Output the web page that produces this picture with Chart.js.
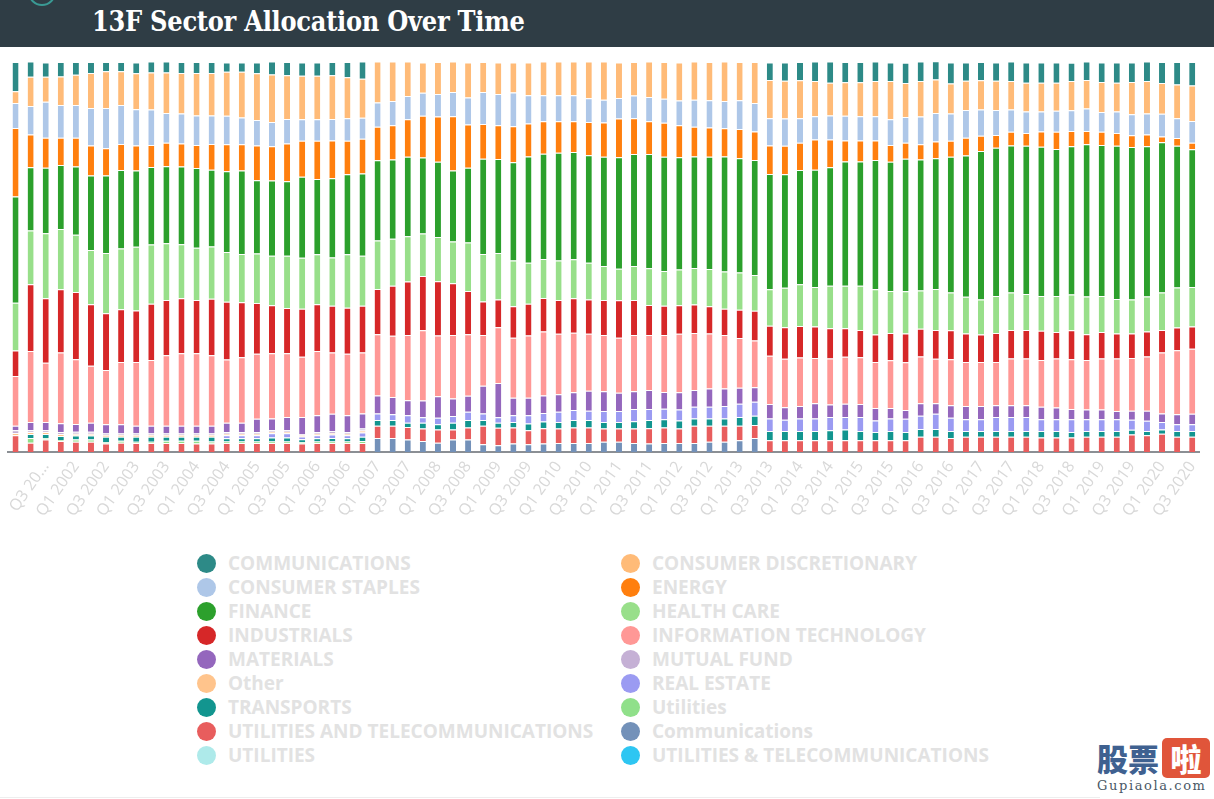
<!DOCTYPE html>
<html>
<head>
<meta charset="utf-8">
<script src="https://cdn.jsdelivr.net/npm/chart.js@4.4.1/dist/chart.umd.min.js"></script>
<style>
  html, body { margin: 0; padding: 0; background: #fff; }
  body { width: 1214px; height: 799px; position: relative; overflow: hidden; font-family: "Open Sans", sans-serif; }
  #header { position: absolute; left: 0; top: 0; width: 1214px; height: 47px; background: #2f3d45; overflow: hidden; }
  #header .ring { position: absolute; left: 28px; top: -22px; width: 24px; height: 24px; border: 2px solid #3a9a94; border-radius: 50%; }
  #header h1 { position: absolute; left: 92px; top: 2px; margin: 0; line-height: 40px; font-family: "DejaVu Serif", serif; font-weight: bold; font-size: 27px; color: #fff; letter-spacing: -0.3px; white-space: nowrap; transform: scaleX(0.895); transform-origin: 0 50%; }
  #chartBox { position: absolute; left: 0; top: 47px; width: 1214px; height: 493px; }
  #legend { position: absolute; left: 197px; top: 551px; display: grid; grid-template-columns: 424px 420px; }
  .item { display: flex; align-items: center; height: 24px; font-weight: bold; font-size: 19px; color: #e2e2e2; white-space: nowrap; }
  .dot { width: 19px; height: 19px; border-radius: 50%; margin-right: 12px; flex: none; }
  #wm { position: absolute; left: 1097px; top: 738px; width: 117px; }
  #wm .cn { font-family: "Noto Sans CJK SC", sans-serif; font-weight: 900; font-size: 31px; line-height: 40px; height: 41px; white-space: nowrap; }
  #wm .blue { color: #3f6190; letter-spacing: 0px; }
  #wm .red { display: inline-block; width: 48px; text-align: center; background: #e0553a; color: #fff; border-radius: 5px; margin-left: 3px; }
  #wm .en { font-family: "DejaVu Serif", serif; font-size: 13px; color: #4a5866; letter-spacing: 1.6px; margin-top: -1px; white-space: nowrap; }
  #rule { position: absolute; left: 0; top: 797px; width: 1100px; height: 1px; background: #eee; }
</style>
</head>
<body>
<div id="header"><div class="ring"></div><h1>13F Sector Allocation Over Time</h1></div>
<div id="chartBox"><canvas id="chart" width="1214" height="493"></canvas></div>
<div id="legend"></div>
<div id="wm"><div class="cn"><span class="blue">股票</span><span class="red">啦</span></div><div class="en">Gupiaola.com</div></div>
<div id="rule"></div>
<script>
// quarters, Q1 2001 .. Q3 2020
const quarters = [
  'Q1 2001', 'Q2 2001', 'Q3 2001', 'Q4 2001', 'Q1 2002', 'Q2 2002', 'Q3 2002', 'Q4 2002',
  'Q1 2003', 'Q2 2003', 'Q3 2003', 'Q4 2003', 'Q1 2004', 'Q2 2004', 'Q3 2004', 'Q4 2004',
  'Q1 2005', 'Q2 2005', 'Q3 2005', 'Q4 2005', 'Q1 2006', 'Q2 2006', 'Q3 2006', 'Q4 2006',
  'Q1 2007', 'Q2 2007', 'Q3 2007', 'Q4 2007', 'Q1 2008', 'Q2 2008', 'Q3 2008', 'Q4 2008',
  'Q1 2009', 'Q2 2009', 'Q3 2009', 'Q4 2009', 'Q1 2010', 'Q2 2010', 'Q3 2010', 'Q4 2010',
  'Q1 2011', 'Q2 2011', 'Q3 2011', 'Q4 2011', 'Q1 2012', 'Q2 2012', 'Q3 2012', 'Q4 2012',
  'Q1 2013', 'Q2 2013', 'Q3 2013', 'Q4 2013', 'Q1 2014', 'Q2 2014', 'Q3 2014', 'Q4 2014',
  'Q1 2015', 'Q2 2015', 'Q3 2015', 'Q4 2015', 'Q1 2016', 'Q2 2016', 'Q3 2016', 'Q4 2016',
  'Q1 2017', 'Q2 2017', 'Q3 2017', 'Q4 2017', 'Q1 2018', 'Q2 2018', 'Q3 2018', 'Q4 2018',
  'Q1 2019', 'Q2 2019', 'Q3 2019', 'Q4 2019', 'Q1 2020', 'Q2 2020', 'Q3 2020'
];

// sector weights in % of portfolio, one value per quarter
const communicationsUpper = [
  7.5, 3.9, 3.7, 3.7, 3.3, 2.8, 2.4, 2.4, 2.8, 2.8,
  2.8, 2.8, 2.8, 2.8, 2.4, 2.4, 2.8, 3.3, 3.4, 3.4,
  3.4, 3.4, 3.9, 4.4, 0, 0, 0, 0, 0, 0,
  0, 0, 0, 0, 0, 0, 0, 0, 0, 0,
  0, 0, 0, 0, 0, 0, 0, 0, 0, 0,
  4.5, 4.7, 4.7, 5.0, 5.4, 5.2, 5.2, 5.0, 4.8, 5.2,
  5.0, 4.7, 5.4, 4.7, 4.7, 4.7, 5.0, 5.2, 5.2, 5.2,
  4.7, 4.7, 5.0, 5.2, 5.0, 5.0, 5.4, 5.8, 6.0
];
const consumerDiscretionary = [
  3.0, 7.5, 6.4, 7.3, 7.7, 9.0, 9.4, 8.6, 9.2, 9.5,
  10.4, 10.4, 10.9, 10.9, 11.3, 11.7, 12.0, 12.2, 11.2, 11.2,
  11.2, 11.2, 10.5, 10.0, 10.5, 10.1, 8.8, 7.8, 8.2, 7.8,
  9.0, 7.7, 8.1, 7.7, 8.4, 8.6, 8.6, 8.6, 9.4, 9.8,
  9.1, 8.6, 9.1, 9.4, 9.8, 9.8, 9.8, 10.1, 9.8, 10.5,
  9.8, 9.7, 9.7, 9.0, 8.4, 8.6, 8.7, 9.0, 9.8, 8.7,
  9.1, 8.6, 7.7, 7.5, 7.5, 7.5, 7.3, 7.4, 7.4, 7.2,
  7.5, 7.3, 7.7, 7.4, 8.3, 8.3, 7.9, 8.6, 9.1
];
const consumerStaples = [
  6.4, 7.3, 9.2, 8.4, 8.4, 9.6, 10.3, 10.0, 9.3, 9.1,
  7.6, 7.7, 7.6, 7.3, 7.3, 6.9, 6.5, 6.2, 6.3, 5.5,
  5.5, 5.5, 5.8, 5.4, 6.2, 6.2, 6.0, 5.9, 5.8, 6.2,
  6.9, 8.2, 8.0, 8.7, 7.3, 6.7, 6.7, 6.7, 6.1, 5.8,
  5.3, 5.8, 6.2, 6.2, 6.3, 6.9, 7.0, 7.0, 7.4, 7.3,
  7.0, 7.0, 6.3, 6.0, 6.2, 6.3, 6.2, 6.2, 6.6, 6.6,
  7.1, 7.3, 7.0, 7.1, 6.7, 6.4, 5.7, 5.5, 5.1, 5.4,
  5.3, 5.8, 5.1, 5.5, 5.4, 5.4, 5.8, 5.1, 5.6
];
const energy = [
  17.6, 8.4, 7.7, 7.0, 7.4, 7.7, 7.0, 6.7, 6.4, 5.6,
  6.0, 5.9, 5.9, 6.6, 6.9, 6.7, 8.9, 8.8, 9.7, 9.2,
  9.8, 9.7, 8.6, 8.9, 8.6, 8.8, 9.6, 10.7, 11.6, 13.9,
  11.1, 8.9, 8.7, 9.2, 8.4, 8.3, 8.1, 7.9, 8.5, 8.8,
  9.9, 9.2, 8.4, 8.7, 8.2, 7.6, 7.5, 7.2, 7.5, 7.3,
  7.3, 7.3, 7.0, 7.7, 7.1, 5.4, 5.4, 5.0, 4.3, 4.1,
  3.9, 4.3, 4.1, 4.6, 3.9, 3.3, 3.5, 3.3, 3.9, 4.4,
  3.9, 3.4, 3.4, 3.3, 3.0, 3.0, 1.5, 2.0, 1.7
];
const finance = [
  27.2, 16.2, 16.8, 16.4, 17.5, 19.1, 19.9, 20.1, 19.6, 19.9,
  19.8, 19.9, 20.4, 19.7, 20.7, 21.4, 18.8, 19.3, 19.1, 20.8,
  19.3, 20.3, 20.5, 21.1, 20.6, 20.3, 20.4, 19.5, 19.3, 18.2,
  19.2, 24.4, 24.1, 25.2, 27.3, 27.0, 27.6, 27.5, 27.6, 28.0,
  28.6, 28.7, 29.3, 29.3, 28.8, 28.6, 28.8, 29.5, 29.3, 29.5,
  29.6, 29.1, 29.3, 30.1, 30.4, 31.9, 31.9, 33.2, 33.1, 34.0,
  33.6, 33.5, 34.8, 36.2, 38.1, 38.0, 37.7, 38.0, 38.3, 37.7,
  38.0, 39.0, 38.7, 39.3, 39.1, 38.5, 38.5, 36.3, 35.3
];
const healthCare = [
  12.3, 13.8, 16.7, 15.5, 14.7, 13.9, 15.4, 15.6, 16.3, 15.2,
  14.5, 13.9, 13.4, 13.4, 12.8, 12.4, 12.7, 12.7, 13.4, 13.1,
  12.8, 12.4, 13.7, 12.8, 12.4, 12.1, 11.6, 10.9, 11.3, 10.7,
  12.4, 12.2, 11.9, 11.7, 10.5, 10.0, 10.1, 10.0, 9.4, 8.7,
  8.1, 8.7, 9.4, 8.9, 9.2, 9.4, 9.5, 9.6, 9.5, 9.2,
  9.3, 10.1, 10.7, 10.1, 10.9, 10.9, 11.3, 11.6, 10.8, 10.8,
  9.8, 10.5, 9.7, 9.4, 9.0, 9.5, 9.6, 9.2, 8.9, 9.2,
  9.2, 9.7, 9.2, 8.8, 8.7, 9.0, 9.6, 10.3, 10.1
];
const industrials = [
  6.5, 17.1, 16.5, 16.2, 17.2, 15.8, 14.6, 13.5, 13.2, 14.4,
  14.2, 14.1, 13.7, 14.5, 14.8, 14.1, 13.0, 12.3, 11.6, 12.3,
  12.0, 12.0, 11.8, 12.0, 11.6, 12.8, 13.7, 13.9, 13.9, 13.3,
  11.1, 8.6, 7.1, 8.1, 8.1, 8.6, 8.7, 8.8, 8.8, 9.0,
  9.6, 9.0, 7.7, 7.5, 7.3, 7.3, 7.0, 6.7, 7.3, 7.6,
  7.7, 8.1, 8.1, 8.1, 7.7, 7.3, 7.0, 7.0, 7.0, 7.4,
  7.1, 7.4, 7.4, 7.3, 7.0, 7.4, 7.3, 7.3, 7.5, 6.8,
  7.4, 6.6, 6.8, 6.4, 6.3, 6.4, 5.8, 5.8, 5.7
];
const infoTech = [
  12.8, 18.2, 15.2, 18.1, 16.6, 14.6, 13.9, 16.0, 16.4, 16.9,
  18.1, 18.6, 18.6, 18.1, 16.2, 16.8, 16.7, 16.7, 16.3, 15.4,
  16.5, 15.7, 15.8, 15.6, 15.7, 15.7, 16.7, 18.0, 15.6, 16.3,
  15.8, 13.0, 14.3, 15.4, 16.0, 16.4, 15.5, 15.3, 14.6, 14.4,
  14.1, 14.4, 14.1, 14.6, 15.0, 14.6, 14.1, 13.7, 12.7, 12.0,
  12.4, 12.4, 12.4, 11.6, 11.8, 12.0, 12.0, 11.8, 12.2, 12.2,
  12.0, 11.4, 11.8, 11.3, 11.3, 11.1, 12.0, 12.0, 12.0, 12.6,
  12.8, 12.7, 13.1, 13.5, 13.5, 13.9, 15.6, 16.4, 16.7
];
const materials = [
  1.1, 2.1, 2.1, 2.3, 2.0, 2.3, 2.2, 2.2, 1.8, 1.8,
  1.8, 1.8, 1.8, 1.8, 2.4, 2.4, 3.4, 3.0, 3.4, 4.4,
  4.3, 4.5, 4.3, 3.9, 4.6, 4.4, 3.9, 4.3, 5.5, 4.5,
  4.1, 7.1, 8.8, 4.5, 4.5, 4.5, 4.5, 4.5, 5.1, 5.1,
  4.7, 4.6, 4.9, 4.3, 4.4, 4.3, 4.7, 4.5, 4.1, 3.7,
  3.7, 3.2, 3.2, 3.9, 3.2, 3.4, 3.3, 3.2, 2.7, 2.3,
  3.2, 2.7, 3.2, 3.4, 3.4, 3.0, 3.0, 3.0, 3.2, 3.0,
  2.6, 2.5, 2.5, 2.1, 2.3, 2.6, 2.2, 2.6, 2.7
];
const mutualFund = [
  0.7, 0.5, 0.5, 0.5, 0.5, 0.5, 0.5, 0.5, 0.5, 0.5,
  0.5, 0.5, 0.5, 0.5, 0.4, 0.4, 0.4, 0.4, 0.4, 0.3,
  0.4, 0.4, 0.4, 0.5, 0, 0, 0, 0, 0, 0,
  0, 0, 0, 0, 0, 0, 0, 0, 0, 0,
  0, 0, 0, 0, 0, 0, 0, 0, 0, 0,
  0, 0, 0, 0, 0, 0, 0, 0, 0, 0,
  0, 0, 0, 0, 0, 0, 0, 0, 0, 0,
  0, 0, 0, 0, 0, 0, 0, 0, 0
];
const other = [
  0.6, 0.5, 0.5, 0.5, 0.5, 0.5, 0.5, 0.5, 0.5, 0.5,
  0.5, 0.5, 0.5, 0.5, 0.4, 0.4, 0.4, 0.4, 0.4, 0.3,
  0.4, 0.4, 0.4, 0.5, 0, 0, 0, 0, 0, 0,
  0, 0, 0, 0, 0, 0, 0, 0, 0, 0,
  0, 0, 0, 0, 0, 0, 0, 0, 0, 0,
  0, 0, 0, 0, 0, 0, 0, 0, 0, 0,
  0, 0, 0, 0, 0, 0, 0, 0, 0, 0,
  0, 0, 0, 0, 0, 0, 0, 0, 0
];
const realEstate = [
  0, 0, 0, 0, 0, 0, 0, 0, 0, 0,
  0, 0, 0, 0, 0.8, 0.8, 0.8, 1.1, 1.1, 0.7,
  0.8, 0.9, 0.8, 1.1, 1.7, 1.5, 1.9, 1.4, 1.7, 1.7,
  2.1, 1.7, 1.4, 1.7, 2.1, 2.2, 2.6, 2.6, 2.4, 2.8,
  2.8, 3.1, 2.8, 2.7, 2.8, 3.0, 3.0, 3.2, 3.4, 3.6,
  3.2, 2.9, 3.2, 3.2, 3.4, 3.2, 3.6, 3.0, 3.2, 3.4,
  3.4, 3.9, 3.4, 3.0, 3.0, 3.6, 3.6, 3.6, 3.0, 3.0,
  3.3, 3.0, 3.0, 3.0, 2.6, 2.6, 1.9, 1.7, 1.7
];
const transports = [
  0, 1.0, 1.0, 1.0, 1.0, 1.0, 1.4, 1.0, 1.3, 1.3,
  1.0, 1.0, 1.0, 1.2, 0.8, 0.8, 0.8, 1.0, 1.0, 0.8,
  0.8, 0.9, 0.8, 1.1, 1.5, 1.5, 1.1, 1.5, 1.3, 1.7,
  1.9, 1.5, 1.3, 1.4, 1.7, 1.7, 1.7, 1.9, 1.9, 1.7,
  1.7, 1.9, 2.1, 2.1, 2.1, 1.9, 1.9, 1.9, 2.3, 2.4,
  2.4, 2.4, 2.4, 2.4, 2.6, 2.8, 2.4, 2.1, 2.4, 2.1,
  2.0, 2.0, 1.8, 1.5, 1.5, 1.5, 1.5, 1.5, 1.7, 1.7,
  1.4, 1.5, 1.5, 1.5, 1.2, 1.1, 1.1, 1.5, 1.5
];
const utilitiesMixed = [
  0, 1.2, 0.4, 0.3, 0.6, 0.6, 0.3, 0.5, 0.3, 0.3,
  0.6, 0.6, 0.7, 0.5, 0.4, 0.4, 0.4, 0.4, 0.4, 0.3,
  0.4, 0.4, 0.4, 0.5, 0, 0, 0, 0, 0, 0,
  0, 0, 0, 0, 0, 0, 0, 0, 0, 0,
  0, 0, 0, 0, 0, 0, 0, 0, 0, 0,
  0, 0, 0, 0, 0, 0, 0, 0, 0, 0,
  0, 0, 0, 0, 0, 0, 0, 0, 0, 0,
  0, 0, 0, 0, 0, 0, 0, 0, 0
];
const utilitiesAndTelecom = [
  4.3, 2.4, 3.2, 2.8, 2.6, 2.6, 2.2, 2.4, 2.3, 2.3,
  2.3, 2.3, 2.2, 2.2, 2.3, 2.3, 2.3, 2.3, 2.3, 2.2,
  2.3, 2.3, 2.3, 2.3, 3.1, 3.1, 3.2, 3.2, 3.4, 2.6,
  3.1, 4.7, 4.5, 4.1, 3.6, 3.9, 3.7, 4.0, 4.0, 3.4,
  3.4, 3.7, 3.9, 4.0, 3.7, 4.4, 4.1, 4.1, 3.7, 3.3,
  3.0, 3.0, 3.0, 3.0, 3.0, 3.0, 3.0, 3.0, 3.0, 3.0,
  3.9, 3.9, 3.6, 3.9, 3.9, 3.9, 3.9, 3.9, 3.7, 3.7,
  3.7, 3.9, 3.9, 3.9, 4.5, 4.3, 4.7, 3.9, 3.9
];
const communicationsMixed = [
  0, 0, 0, 0, 0, 0, 0, 0, 0, 0,
  0, 0, 0, 0, 0, 0, 0, 0, 0, 0,
  0, 0, 0, 0, 3.6, 3.6, 3.2, 2.8, 2.4, 3.2,
  3.2, 2.0, 1.7, 2.2, 2.0, 2.2, 2.3, 2.3, 2.3, 2.6,
  2.6, 2.3, 2.2, 2.3, 2.3, 2.3, 2.6, 2.6, 3.0, 3.6,
  0, 0, 0, 0, 0, 0, 0, 0, 0, 0,
  0, 0, 0, 0, 0, 0, 0, 0, 0, 0,
  0, 0, 0, 0, 0, 0, 0, 0, 0
];
const utilitiesUpper = [
  0, 0, 0, 0, 0, 0, 0, 0, 0, 0,
  0, 0, 0, 0, 0, 0, 0, 0, 0, 0,
  0, 0, 0, 0, 0, 0, 0, 0, 0, 0,
  0, 0, 0, 0, 0, 0, 0, 0, 0, 0,
  0, 0, 0, 0, 0, 0, 0, 0, 0, 0,
  0, 0, 0, 0, 0, 0, 0, 0, 0, 0,
  0, 0, 0, 0, 0, 0, 0, 0, 0, 0,
  0, 0, 0, 0, 0, 0, 0, 0, 0
];
const utilitiesAmpTelecom = [
  0, 0, 0, 0, 0, 0, 0, 0, 0, 0,
  0, 0, 0, 0, 0, 0, 0, 0, 0, 0,
  0, 0, 0, 0, 0, 0, 0, 0, 0, 0,
  0, 0, 0, 0, 0, 0, 0, 0, 0, 0,
  0, 0, 0, 0, 0, 0, 0, 0, 0, 0,
  0, 0, 0, 0, 0, 0, 0, 0, 0, 0,
  0, 0, 0, 0, 0, 0, 0, 0, 0, 0,
  0, 0, 0, 0, 0, 0, 0, 0, 0
];

// stacking order, bottom to top
const series = [
  ['UTILITIES & TELECOMMUNICATIONS', utilitiesAmpTelecom, '#2ec6f2'],
  ['UTILITIES', utilitiesUpper, '#aeeaea'],
  ['Communications', communicationsMixed, '#7391b9'],
  ['UTILITIES AND TELECOMMUNICATIONS', utilitiesAndTelecom, '#e85d5d'],
  ['Utilities', utilitiesMixed, '#90e08a'],
  ['TRANSPORTS', transports, '#12958f'],
  ['REAL ESTATE', realEstate, '#9b9bf2'],
  ['Other', other, '#ffc48c'],
  ['MUTUAL FUND', mutualFund, '#c5b0d5'],
  ['MATERIALS', materials, '#9467bd'],
  ['INFORMATION TECHNOLOGY', infoTech, '#ff9896'],
  ['INDUSTRIALS', industrials, '#d62728'],
  ['HEALTH CARE', healthCare, '#98df8a'],
  ['FINANCE', finance, '#2ca02c'],
  ['ENERGY', energy, '#ff7f0e'],
  ['CONSUMER STAPLES', consumerStaples, '#aec7e8'],
  ['CONSUMER DISCRETIONARY', consumerDiscretionary, '#ffbb78'],
  ['COMMUNICATIONS', communicationsUpper, '#2d8a87']
];

const chart = new Chart(document.getElementById('chart'), {
  type: 'bar',
  data: {
    labels: quarters,
    datasets: series.map(([label, data, color]) => ({
      label: label,
      data: data,
      backgroundColor: color,
      borderColor: '#ffffff',
      borderWidth: { top: 1, right: 0, bottom: 0, left: 0 },
      borderSkipped: false,
      categoryPercentage: 0.8,
      barPercentage: 0.5
    }))
  },
  options: {
    responsive: false,
    animation: false,
    layout: { padding: { left: 8, right: 9, top: 15, bottom: 0 } },
    plugins: {
      legend: { display: false },
      tooltip: { enabled: false }
    },
    scales: {
      x: {
        stacked: true,
        grid: { display: false, drawTicks: false },
        border: { display: true, color: '#8b8f94', width: 2 },
        ticks: {
          autoSkip: false,
          minRotation: 55,
          maxRotation: 55,
          padding: 6,
          color: '#d8d8d8',
          font: { family: 'Open Sans', size: 16 },
          callback: function (value, index) {
            if (index === 0 || index % 2 === 1) return '';
            const label = this.getLabelForValue(value);
            return index === 2 ? label.slice(0, 5) + '...' : label;
          }
        },
        afterFit: (scale) => { scale.height = 88; }
      },
      y: { stacked: true, display: false, min: 0, max: 100 }
    }
  }
});

// two-column legend, listed top of stack first
const legendBox = document.getElementById('legend');
chart.data.datasets.slice().reverse().forEach(ds => {
  const item = document.createElement('div');
  item.className = 'item';
  const dot = document.createElement('span');
  dot.className = 'dot';
  dot.style.background = ds.backgroundColor;
  item.appendChild(dot);
  item.appendChild(document.createTextNode(ds.label));
  legendBox.appendChild(item);
});
</script>
</body>
</html>
